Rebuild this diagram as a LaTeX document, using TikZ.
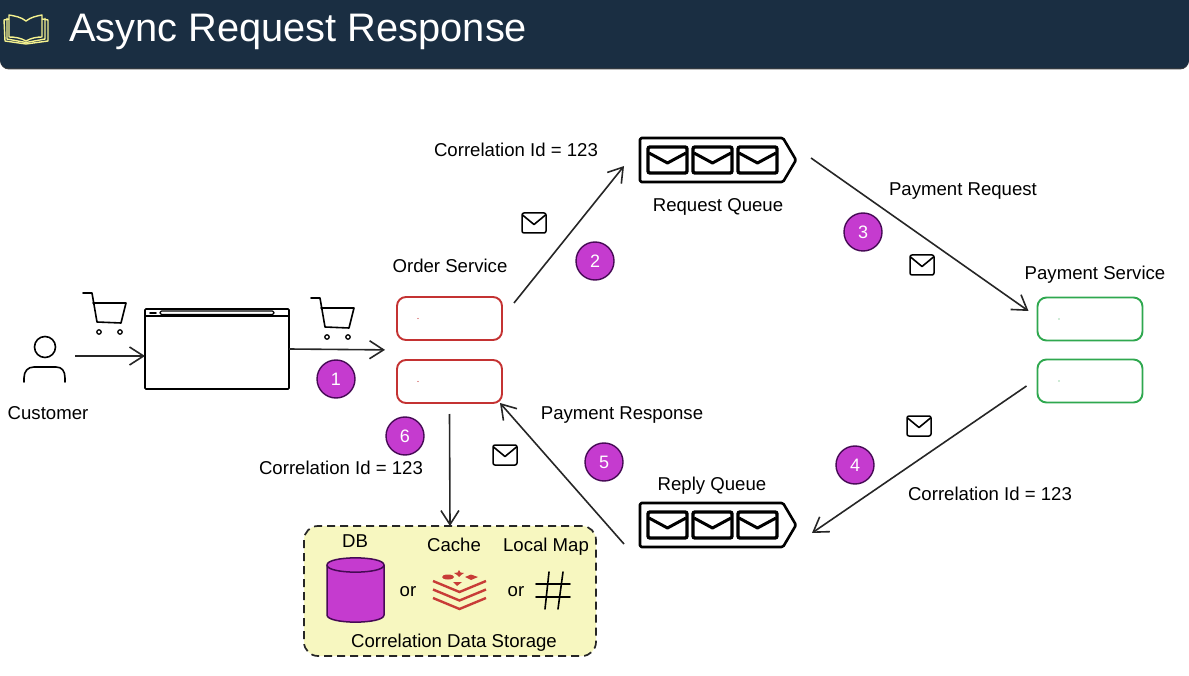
\documentclass[tikz,border=0pt]{standalone}
\usepackage{fontspec}
\setmainfont{Liberation Sans}
\usetikzlibrary{arrows.meta, positioning, shapes.geometric, fit}
\definecolor{headcolor}{RGB}{26,46,66}
\definecolor{bookcolor}{RGB}{245,242,143}
\definecolor{badgecolor}{RGB}{197,59,207}
\definecolor{badgeline}{RGB}{70,10,85}
\definecolor{notecolor}{RGB}{247,247,192}
\definecolor{ordercolor}{RGB}{196,50,50}
\definecolor{paycolor}{RGB}{47,168,79}
\definecolor{rediscolor}{RGB}{200,60,55}
\tikzset{
  lbl/.style      = {font=\fontsize{18.6}{20}\selectfont, inner sep=0pt, text=black, text height=13pt, text depth=0pt},
  arrow/.style    = {-{Straight Barb[length=14pt,width=18pt]}, line width=1.6pt, color=black!85},
  badge/.style    = {circle, draw=badgeline, fill=badgecolor, line width=1.4pt, minimum size=38pt,
                     inner sep=0pt, outer sep=0pt, text=white, font=\fontsize{18}{20}\selectfont},
  svcorder/.style = {draw=ordercolor, line width=1.9pt, rounded corners=9pt, minimum width=105pt,
                     minimum height=43pt, inner sep=0pt, outer sep=0pt},
  svcpay/.style   = {svcorder, draw=paycolor},
  queuebox/.style = {minimum width=156pt, minimum height=44pt, inner sep=0pt, outer sep=0pt},
  mailbox/.style  = {draw, line width=1.5pt, rounded corners=2pt, minimum width=24pt,
                     minimum height=20pt, inner sep=0pt, outer sep=0pt},
  line/.style     = {line width=1.6pt, color=black, line cap=round, line join=round},
}
\newcommand{\queueicon}[1]{
  \begin{scope}[shift={(#1.center)}]
    \draw[line width=2.6pt, rounded corners=1.5pt, line join=round]
      (-78,-22) -- (65,-22) -- (78,0) -- (65,22) -- (-78,22) -- cycle;
    \foreach \dx in {-70,-25,20} {
      \draw[line width=3.4pt, rounded corners=2pt] (\dx,-13) rectangle ++(39,26);
      \draw[line width=3pt, line join=round] (\dx+1,-7) -- (\dx+19.5,3) -- (\dx+38,-7);
    }
  \end{scope}
}
\newcommand{\mailicon}[2]{
  \node[mailbox] (#1) at #2 {};
  \draw[line] ([shift={(0.5pt,-2pt)}]#1.north west) -- ([yshift=-1.5pt]#1.center) -- ([shift={(-0.5pt,-2pt)}]#1.north east);
}
\newcommand{\carticon}[1]{
  \begin{scope}[shift={#1}]
    \draw[line] (0,0) -- (9,0) -- (14,29) -- (38,30) -- (43,10) -- (10,10);
    \draw[line, line width=1.3pt] (16,39) circle (2.2);
    \draw[line, line width=1.3pt] (37,39) circle (2.2);
  \end{scope}
}
\begin{document}
\begin{tikzpicture}[x=1pt, y=-1pt]
  \useasboundingbox (0,0) rectangle (1189,676);

  % header
  \fill[black!75, rounded corners=9pt] (0,-12) rectangle (1189,69.5);
  \fill[headcolor, rounded corners=9pt] (0,-12) rectangle (1189,68.5);
  \begin{scope}[bookcolor, line width=1.4pt, line join=round]
    \draw (26,21) .. controls (21,17) and (15,16) .. (9,15) -- (9,37) .. controls (15,37) and (21,38) .. (26,41)
      .. controls (31,38) and (37,37) .. (42,37) -- (42,15) .. controls (37,16) and (31,17) .. (26,21) -- cycle;
    \draw (9,19) -- (4,20) -- (5,41) -- (26,44) -- (48,41) -- (48,20) -- (42,19);
    \draw (7,18) -- (7,39) -- (26,42.5) -- (45,39) -- (45,18);
  \end{scope}
  \node[anchor=west, text=white, inner sep=0pt, font=\fontsize{39.8}{44}\selectfont, text height=29pt, text depth=0pt] (title) at (69,27) {Async Request Response};

  % customer and browser
  \node[minimum size=60pt, inner sep=0pt, outer sep=0pt] (customer) at (45,356) {};
  \draw[line] (45,347) circle (10.5);
  \draw[line] (24,382) -- (24,378) .. controls (24,371) and (28,367) .. (34,367) -- (56,367) .. controls (62,367) and (65,371) .. (65,378) -- (65,382);
  \node[lbl] (customerlbl) at (48,413) {Customer};
  \carticon{(83,293)}
  \node[draw, line width=1.6pt, rounded corners=1pt, minimum width=144pt, minimum height=80pt,
        inner sep=0pt, outer sep=0pt] (browser) at (217,349) {};
  \draw[line] (145,316) -- (289,316);
  \draw[line, line width=1.2pt, rounded corners=1.5pt] (160,311) rectangle (274,314.5);
  \draw[line, line width=1.8pt] (150,313) -- (156,313);
  \carticon{(311,298)}

  % services
  \node[svcorder] (ordertop) at (449.5,318.5) {};
  \node[svcorder] (orderbottom) at (449.5,381.5) {};
  \node[inner sep=0pt, outer sep=0pt, fit=(ordertop)(orderbottom)] (order) {};
  \node[svcpay] (paytop) at (1090,319) {};
  \node[svcpay] (paybottom) at (1090,381) {};
  \fill[ordercolor] ([xshift=-31.5pt]ordertop.center) circle (0.7);
  \fill[ordercolor] ([xshift=-31.5pt]orderbottom.center) circle (0.7);
  \fill[paycolor] ([xshift=-31pt]paytop.center) circle (0.7);
  \fill[paycolor] ([xshift=-31pt]paybottom.center) circle (0.7);
  \node[lbl] (orderlbl) at (450,266) {Order Service};
  \node[lbl] (paylbl) at (1095,273) {Payment Service};

  % queues
  \node[queuebox] (reqqueue) at (718,160) {};
  \queueicon{reqqueue}
  \node[queuebox] (replyqueue) at (718,525) {};
  \queueicon{replyqueue}
  \node[lbl] (reqlbl) at (718,205) {Request Queue};
  \node[lbl] (replylbl) at (712,484) {Reply Queue};

  % storage
  \node[draw=black!85, fill=notecolor, dash pattern=on 8pt off 5pt, line width=1.7pt, rounded corners=14pt,
        minimum width=292pt, minimum height=130pt, inner sep=0pt, outer sep=0pt] (storage) at (450,591) {};
  \node[minimum width=57pt, minimum height=64pt, inner sep=0pt, outer sep=0pt] (db) at (355.5,590) {};
  \draw[draw=badgeline, line width=1.5pt, fill=badgecolor] (327,565) -- (327,615)
    .. controls (327,624.5) and (384,624.5) .. (384,615) -- (384,565)
    .. controls (384,555.5) and (327,555.5) .. (327,565) -- cycle;
  \draw[draw=badgeline, line width=1.5pt] (327,565) .. controls (327,574.5) and (384,574.5) .. (384,565);
  \node[lbl] (dblbl) at (355,541) {DB};
  \node[lbl] (cachelbl) at (454,545) {Cache};
  \node[lbl] (maplbl) at (546,545) {Local Map};
  \node[lbl] (or1) at (408,590) {or};
  \node[lbl] (or2) at (516,590) {or};
  \node[lbl] (storagelbl) at (454,641) {Correlation Data Storage};
  \begin{scope}[rediscolor]
    \foreach \dy in {0,8.5,17} {
      \draw[line width=2.4pt] (433,581+\dy) -- (459.5,592+\dy) -- (486,581+\dy);
    }
    \fill (448,577) ellipse (6 and 2.5);
    \fill (459,570) -- (460.5,572.5) -- (464,573) -- (461,575) -- (459,577) -- (457,575) -- (454,573) -- (457.5,572.5) -- cycle;
    \fill (465,577) -- (471,574.5) -- (478,577) -- (471,580) -- cycle;
    \fill (453,582) -- (462,582) -- (457,586) -- cycle;
  \end{scope}
  \draw[line] (536,584) -- (570,584);
  \draw[line] (536,597) -- (570,597);
  \draw[line] (549,572) -- (545,609);
  \draw[line] (563,572) -- (558,609);

  % connectors
  \draw[arrow] (customer.east) -- (browser.west |- customer.east);
  \draw[arrow, shorten >=12pt] (browser.east) -- (order.west);
  \draw[arrow] ([shift={(12pt,-6pt)}]ordertop.north east) -- ([shift={(-16pt,-6pt)}]reqqueue.west);
  \draw[arrow] ([shift={(15pt,2pt)}]reqqueue.east) -- ([shift={(-9pt,8pt)}]paytop.west);
  \draw[arrow] ([shift={(-11pt,-5pt)}]paybottom.west) -- ([shift={(16pt,-8pt)}]replyqueue.east);
  \draw[arrow] ([shift={(-16pt,-19pt)}]replyqueue.west) -- ([shift={(-2pt,0pt)}]orderbottom.south east);
  \draw[arrow] ([yshift=-11pt]orderbottom.south) -- (storage.north);

  % envelopes
  \mailicon{mail2}{(534,223)}
  \mailicon{mail3}{(922,265)}
  \mailicon{mail4}{(919,426)}
  \mailicon{mail5}{(505,455)}

  % step numbers
  \node[badge] (step1) at (336,379) {1};
  \node[badge] (step2) at (595,261) {2};
  \node[badge] (step3) at (863,232) {3};
  \node[badge] (step4) at (855,465) {4};
  \node[badge] (step5) at (604,462) {5};
  \node[badge] (step6) at (405,436) {6};

  % labels
  \node[lbl] (corr1) at (516,150) {Correlation Id = 123};
  \node[lbl] (corr2) at (341,468) {Correlation Id = 123};
  \node[lbl] (corr3) at (990,494) {Correlation Id = 123};
  \node[lbl] (payreq) at (963,189) {Payment Request};
  \node[lbl] (payres) at (622,413) {Payment Response};
\end{tikzpicture}
\end{document}
